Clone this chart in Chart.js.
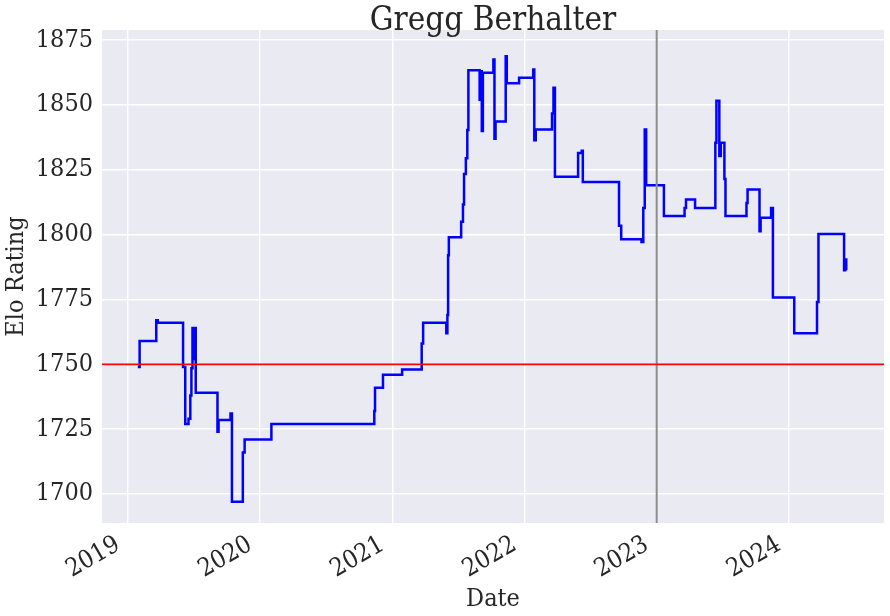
<!DOCTYPE html>
<html lang="en">
<head>
    <meta charset="UTF-8">
    <title>Gregg Berhalter</title>
    <style>
        * { margin: 0; padding: 0; box-sizing: border-box; }
        body { background: #ffffff; width: 890px; height: 616px; overflow: hidden; }
        #eloChart { display: block; }
    </style>
    <script src="https://cdn.jsdelivr.net/npm/chart.js"></script>
</head>
<body>
    <canvas id="eloChart" width="890" height="616"></canvas>

    <script>
        // match dates and the rating held from that date on
        const dates = [
            "2019-01-28", "2019-02-02", "2019-03-20", "2019-03-24", "2019-06-02",
            "2019-06-08", "2019-06-17", "2019-06-22", "2019-06-25", "2019-06-28",
            "2019-07-01", "2019-07-04", "2019-07-07", "2019-09-05", "2019-09-08",
            "2019-10-11", "2019-10-15", "2019-11-14", "2019-11-19", "2020-02-01",
            "2020-11-12", "2020-11-14", "2020-12-06", "2021-01-28", "2021-03-23",
            "2021-03-27", "2021-05-30", "2021-06-02", "2021-06-04", "2021-06-06",
            "2021-07-10", "2021-07-15", "2021-07-18", "2021-07-23", "2021-07-27",
            "2021-07-30", "2021-08-30", "2021-09-02", "2021-09-05", "2021-09-08",
            "2021-10-07", "2021-10-10", "2021-10-13", "2021-11-10", "2021-11-13",
            "2021-12-17", "2022-01-25", "2022-01-28", "2022-02-01", "2022-03-18",
            "2022-03-22", "2022-03-26", "2022-05-29", "2022-06-08", "2022-06-11",
            "2022-09-19", "2022-09-25", "2022-11-20", "2022-11-25", "2022-11-29",
            "2022-12-03", "2023-01-21", "2023-03-19", "2023-03-23", "2023-04-17",
            "2023-06-12", "2023-06-15", "2023-06-23", "2023-06-27", "2023-07-07",
            "2023-07-10", "2023-09-06", "2023-09-09", "2023-10-12", "2023-10-15",
            "2023-11-13", "2023-11-18", "2024-01-16", "2024-03-19", "2024-03-23",
            "2024-06-02", "2024-06-05", "2024-06-08"
        ];
        const ratings = [
            1749, 1759, 1767, 1766, 1749,
            1727, 1729, 1738, 1748.5, 1764,
            1752, 1764, 1739, 1724, 1728.5,
            1731, 1697, 1716, 1721, 1727,
            1732, 1741, 1746, 1748, 1758,
            1766, 1762, 1769, 1792, 1799,
            1805, 1811.6, 1823.4, 1829.4, 1840.3,
            1863.4, 1852, 1863, 1840, 1862.4,
            1867.5, 1837, 1843.6, 1868.8, 1858.4,
            1860.5, 1863.7, 1836.4, 1840.5, 1846.7,
            1856.6, 1822.3, 1831.5, 1832.3, 1820.3,
            1803.4, 1798.2, 1797.2, 1810.3, 1840.5,
            1819, 1807.2, 1810.3, 1813.5, 1810.3,
            1835.4, 1851.6, 1830.3, 1835.4, 1821.4,
            1807.2, 1812.2, 1817.4, 1801.3, 1806.5,
            1810.3, 1775.8, 1762, 1774, 1800.2,
            1786.3, 1790.4, 1786.3
        ];
        const yearTicks = [2019, 2020, 2021, 2022, 2023, 2024];
        const ratingTicks = [1700, 1725, 1750, 1775, 1800, 1825, 1850, 1875];
        const baseline = 1750;
        const markerDate = "2023-01-01";
        const chartTitle = "Gregg Berhalter";

        const xMin = 2018.803, xMax = 2024.72;
        const yMin = 1688.8, yMax = 1878.9;

        function toYear(s) {
            const d = new Date(s + "T00:00:00Z");
            const y = d.getUTCFullYear();
            const start = Date.UTC(y, 0, 1);
            const end = Date.UTC(y + 1, 0, 1);
            return y + (d.getTime() - start) / (end - start);
        }

        const eloPoints = dates.map((d, i) => ({ x: toYear(d), y: ratings[i] }));
        const markerX = toYear(markerDate);

        const textColor = "#262626";
        const serif = "'DejaVu Serif Condensed', 'DejaVu Serif', serif";

        const plotBackground = {
            id: "plotBackground",
            beforeDraw(chart) {
                const a = chart.chartArea;
                const c = chart.ctx;
                c.save();
                c.fillStyle = "#eaeaf2";
                c.fillRect(a.left, a.top, a.right - a.left, a.bottom - a.top);
                c.restore();
            },
            // title centred over the plot area, like matplotlib does
            afterDraw(chart) {
                const a = chart.chartArea;
                const c = chart.ctx;
                c.save();
                c.fillStyle = textColor;
                c.font = "normal 33px " + serif;
                c.textAlign = "center";
                c.textBaseline = "alphabetic";
                c.fillText(chartTitle, (a.left + a.right) / 2, 30);
                c.restore();
            }
        };

        new Chart(document.getElementById("eloChart"), {
            type: "line",
            data: {
                datasets: [
                    {
                        data: [{ x: xMin, y: baseline }, { x: xMax, y: baseline }],
                        borderColor: "#ff0000",
                        borderWidth: 1.8,
                        pointRadius: 0,
                        order: 0
                    },
                    {
                        data: [{ x: markerX, y: yMin }, { x: markerX, y: yMax }],
                        borderColor: "#8c8c8c",
                        borderWidth: 2,
                        pointRadius: 0,
                        order: 1
                    },
                    {
                        data: eloPoints,
                        borderColor: "#0000ff",
                        borderWidth: 2.5,
                        pointRadius: 0,
                        stepped: "before",
                        order: 2
                    }
                ]
            },
            options: {
                responsive: false,
                animation: false,
                layout: { padding: { left: 0, right: 6, top: 30, bottom: 0 } },
                plugins: {
                    legend: { display: false },
                    tooltip: { enabled: false },
                    title: { display: false }
                },
                scales: {
                    x: {
                        type: "linear",
                        min: xMin,
                        max: xMax,
                        afterFit(scale) { scale.height = 93; },
                        afterBuildTicks(scale) {
                            scale.ticks = yearTicks.map(v => ({ value: v }));
                        },
                        ticks: {
                            color: textColor,
                            font: { family: serif, size: 25 },
                            maxRotation: 30,
                            minRotation: 30,
                            padding: 7,
                            labelOffset: -10,
                            autoSkip: false,
                            callback: v => String(v)
                        },
                        grid: { color: "#ffffff", lineWidth: 1.4, drawTicks: false },
                        border: { display: false },
                        title: {
                            display: true,
                            text: "Date",
                            color: textColor,
                            font: { family: serif, size: 25 },
                            padding: { top: 0, bottom: 2 }
                        }
                    },
                    y: {
                        type: "linear",
                        min: yMin,
                        max: yMax,
                        afterFit(scale) { scale.width = 102; },
                        afterBuildTicks(scale) {
                            scale.ticks = ratingTicks.map(v => ({ value: v }));
                        },
                        ticks: {
                            color: textColor,
                            font: { family: serif, size: 25 },
                            padding: 9,
                            callback: v => String(v)
                        },
                        grid: { color: "#ffffff", lineWidth: 1.4, drawTicks: false },
                        border: { display: false },
                        title: {
                            display: true,
                            text: "Elo Rating",
                            color: textColor,
                            font: { family: serif, size: 25 },
                            padding: { top: 1, bottom: 0 }
                        }
                    }
                }
            },
            plugins: [plotBackground]
        });
    </script>
</body>
</html>
